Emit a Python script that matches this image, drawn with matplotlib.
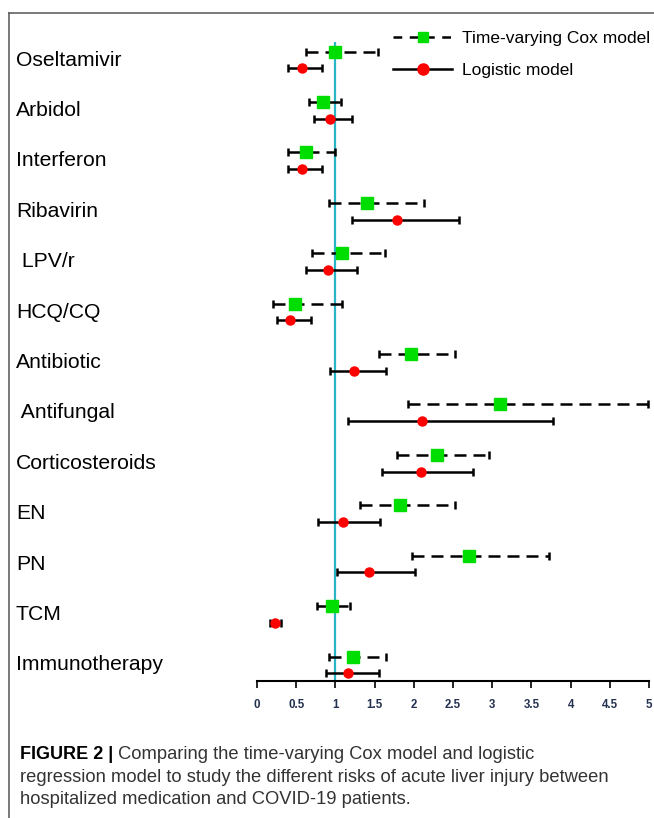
import matplotlib
matplotlib.use("Agg")
import matplotlib.pyplot as plt
import matplotlib.transforms as mtransforms
from matplotlib.lines import Line2D
import numpy as np

plt.rcParams["font.family"] = ["Liberation Sans", "DejaVu Sans"]

drugs = ["Oseltamivir", "Arbidol", "Interferon", "Ribavirin", " LPV/r", "HCQ/CQ",
         "Antibiotic", " Antifungal", "Corticosteroids", "EN", "PN", "TCM",
         "Immunotherapy"]

# time-varying Cox model: HR and 95% CI
cox_hr = [1.00, 0.84, 0.625, 1.40, 1.08, 0.48, 1.97, 3.10, 2.30, 1.82, 2.70, 0.96, 1.23]
cox_lo = [0.63, 0.66, 0.39, 0.92, 0.70, 0.21, 1.55, 1.93, 1.79, 1.31, 1.98, 0.77, 0.92]
cox_hi = [1.54, 1.07, 1.00, 2.13, 1.63, 1.09, 2.52, 4.99, 2.96, 2.53, 3.72, 1.19, 1.64]

# logistic model: OR and 95% CI
log_or = [0.57, 0.93, 0.57, 1.79, 0.90, 0.42, 1.24, 2.11, 2.09, 1.10, 1.43, 0.23, 1.16]
log_lo = [0.39, 0.73, 0.39, 1.21, 0.63, 0.25, 0.93, 1.16, 1.60, 0.78, 1.02, 0.17, 0.88]
log_hi = [0.83, 1.21, 0.83, 2.58, 1.28, 0.69, 1.65, 3.78, 2.76, 1.57, 2.02, 0.31, 1.55]

xticks = [0, 0.5, 1, 1.5, 2, 2.5, 3, 3.5, 4, 4.5, 5]
xtick_labels = ["0", "0.5", "1", "1.5", "2", "2.5", "3", "3.5", "4", "4.5", "5"]

caption_bold = "FIGURE 2 |"
caption = [" Comparing the time-varying Cox model and logistic",
           "regression model to study the different risks of acute liver injury between",
           "hospitalized medication and COVID-19 patients."]

W, H = 654, 818
fig = plt.figure(figsize=(W / 100, H / 100), dpi=100)

# axes placed in pixel terms
x0, x1 = 257, 649
ytop, ybot = 29.8, 681.0
ax = fig.add_axes([x0 / W, 1 - ybot / H, (x1 - x0) / W, (ybot - ytop) / H])
ax.set_xlim(0, 5)
ax.set_ylim(12.32, -0.6)

green = "#00dd00"
red = "#ff0000"
dash = (0, (4.8, 2.8))
off = 0.166

pos = np.arange(len(drugs))

ax.vlines(1, -0.357, 12.32, color="#2ab4c8", lw=1.6, zorder=1)

cox = np.array(cox_hr)
e1 = ax.errorbar(cox, pos - off,
                 xerr=[cox - np.array(cox_lo), np.array(cox_hi) - cox],
                 fmt="none", ecolor="black", elinewidth=1.8, capsize=3,
                 capthick=1.8, zorder=2)
e1[2][0].set_linestyle(dash)
ax.plot(cox, pos - off, "s", color=green, ms=8.5, zorder=3)

lg = np.array(log_or)
ax.errorbar(lg, pos + off,
            xerr=[lg - np.array(log_lo), np.array(log_hi) - lg],
            fmt="none", ecolor="black", elinewidth=1.8, capsize=3,
            capthick=1.8, zorder=2)
ax.plot(lg, pos + off, "o", color=red, ms=6.5, zorder=3)

for s in ["left", "top", "right"]:
    ax.spines[s].set_visible(False)
ax.spines["bottom"].set_linewidth(1.5)
ax.set_yticks([])
ax.set_xticks(xticks)
ax.set_xticklabels(xtick_labels, fontsize=8.3, fontweight="bold", color="#23304f")
ax.tick_params(axis="x", length=5, width=1.2, pad=8)

# drug labels
tr = mtransforms.blended_transform_factory(fig.transFigure, ax.transData)
for i, name in enumerate(drugs):
    ax.text(16 / W, i, name, transform=tr, fontsize=15.2, ha="left", va="center",
            color="black")

# legend
h_cox = Line2D([], [], color="black", lw=1.8, ls=(0, (3.5, 3)), marker="s",
               mfc=green, mec=green, ms=7.5)
h_log = Line2D([], [], color="black", lw=1.8, marker="o", mfc=red, mec=red, ms=8)
fig.legend([h_cox, h_log], ["Time-varying Cox model", "Logistic model"],
           loc="upper left", bbox_to_anchor=(393 / W, 1 - 31 / H),
           frameon=False, fontsize=12.5, handlelength=3.4, handletextpad=0.55,
           labelspacing=0.95, borderpad=0, borderaxespad=0, numpoints=1)

# frame
fig.add_artist(Line2D([9 / W, 9 / W], [0, 1 - 13 / H], color="#555555", lw=1.1))
fig.add_artist(Line2D([9 / W, 1], [1 - 13 / H, 1 - 13 / H], color="#555555", lw=1.1))

# caption
t = fig.text(20 / W, 1 - 759 / H, caption_bold, fontsize=13, fontweight="bold",
             va="baseline", color="black")
ax.annotate(caption[0], xy=(1, 0), xycoords=t, va="bottom", ha="left",
            fontsize=13.2, color="#333333")
fig.text(20 / W, 1 - 781.5 / H, caption[1], fontsize=13.2, va="baseline", color="#333333")
fig.text(20 / W, 1 - 804 / H, caption[2], fontsize=13.2, va="baseline", color="#333333")

plt.savefig("out.png", dpi=100)
plt.close()
